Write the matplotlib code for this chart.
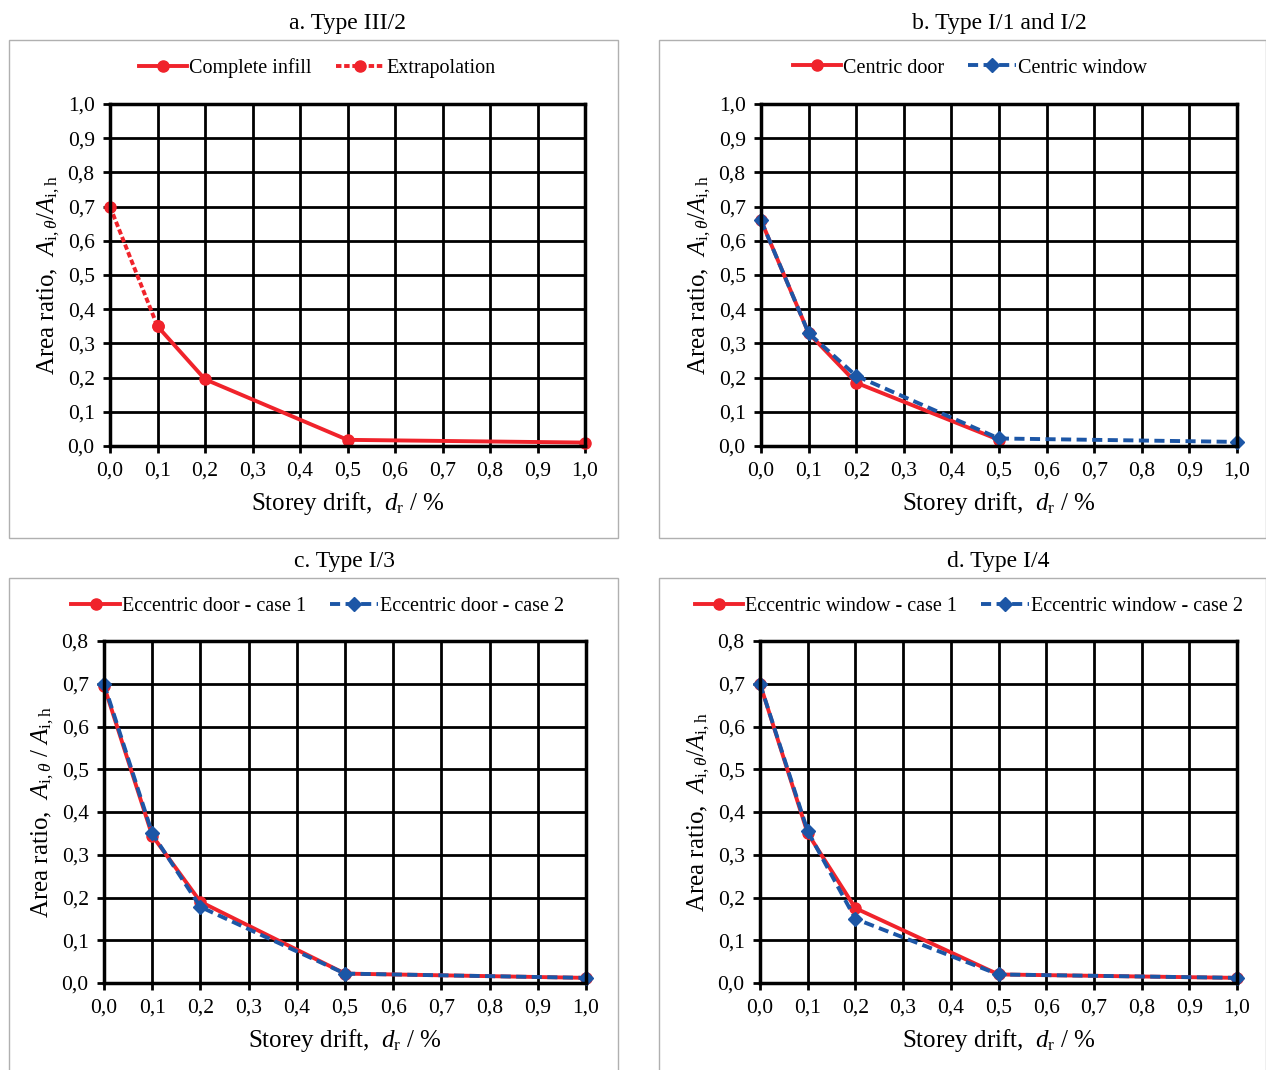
import numpy as np
import matplotlib
matplotlib.use('Agg')
import matplotlib.pyplot as plt
from matplotlib.patches import Rectangle
from matplotlib.ticker import FuncFormatter, MultipleLocator

plt.rcParams['font.family'] = ['Liberation Serif', 'DejaVu Serif']
plt.rcParams['mathtext.fontset'] = 'custom'
plt.rcParams['mathtext.rm'] = 'Liberation Serif'
plt.rcParams['mathtext.it'] = 'Liberation Serif:italic'

# ── Data ──────────────────────────────────────────────────────────────────────
# a. Type III/2
a_extrap_x = [0.0, 0.1]
a_extrap_y = [0.70, 0.35]
a_full_x = [0.1, 0.2, 0.5, 1.0]
a_full_y = [0.35, 0.195, 0.018, 0.010]
# b. Type I/1 and I/2
b_door_x = [0.0, 0.1, 0.2, 0.5]
b_door_y = [0.66, 0.33, 0.185, 0.018]
b_win_x = [0.0, 0.1, 0.2, 0.5, 1.0]
b_win_y = [0.66, 0.33, 0.205, 0.022, 0.012]
# c. Type I/3
c_x = [0.0, 0.1, 0.2, 0.5, 1.0]
c_case1 = [0.695, 0.345, 0.190, 0.022, 0.012]
c_case2 = [0.700, 0.350, 0.178, 0.022, 0.012]
# d. Type I/4
d_x = [0.0, 0.1, 0.2, 0.5, 1.0]
d_case1 = [0.700, 0.350, 0.175, 0.020, 0.012]
d_case2 = [0.700, 0.355, 0.150, 0.020, 0.012]

RED = '#f0232b'
BLUE = '#1c56a6'
W, H = 1266, 1070

fig = plt.figure(figsize=(W / 100, H / 100), dpi=100)


def px_axes(left, top, right, bottom):
    return fig.add_axes([left / W, 1 - bottom / H, (right - left) / W, (bottom - top) / H])


def comma(v, pos):
    return f'{v:.1f}'.replace('.', ',')


def style(ax, ymax, title, ylabel, box, leg_x):
    x0, y0, x1, y1 = box
    fig.patches.append(Rectangle((x0 / W, 1 - y1 / H), (x1 - x0) / W, (y1 - y0) / H,
                                 transform=fig.transFigure, fill=False,
                                 edgecolor='#b0b0b0', lw=1.0, zorder=0))
    ax.set_xlim(0, 1.0)
    ax.set_ylim(0, ymax)
    ax.xaxis.set_major_locator(MultipleLocator(0.1))
    ax.yaxis.set_major_locator(MultipleLocator(0.1))
    ax.xaxis.set_major_formatter(FuncFormatter(comma))
    ax.yaxis.set_major_formatter(FuncFormatter(comma))
    ax.grid(True, color='black', lw=2.0)
    ax.set_axisbelow(True)
    for s in ax.spines.values():
        s.set_linewidth(2.5)
    ax.tick_params(direction='out', length=5, width=2, labelsize=15.5, pad=6)
    ax.set_xlabel(r'Storey drift,  $d_{\mathrm{r}}$ / %', fontsize=18, labelpad=7)
    ax.set_ylabel(ylabel, fontsize=18, labelpad=4)
    bb = ax.get_position()
    fig.text((bb.x0 + bb.x1) / 2, 1 - (y0 - 17) / H, title, ha='center', va='center', fontsize=17)
    ax.legend(loc='center', bbox_to_anchor=(leg_x / W, 1 - (y0 + 28) / H),
              bbox_transform=fig.transFigure, ncol=2, frameon=False, fontsize=14.5,
              handlelength=2.4, handletextpad=0.1, columnspacing=1.2)


ylab = r'Area ratio,  $A_{\mathrm{i},\theta}/A_{\mathrm{i,h}}$'
ylab_c = r'Area ratio,  $A_{\mathrm{i},\theta}\ /\ A_{\mathrm{i,h}}$'
lw = 2.8

# a
ax = px_axes(110, 104, 585, 446)
ax.plot(a_full_x, a_full_y, color=RED, lw=lw, marker='o', ms=8, clip_on=False, label='Complete infill')
ax.plot(a_extrap_x, a_extrap_y, color=RED, lw=lw, ls=(0, (1.4, 0.7)), marker='o', ms=8,
        clip_on=False, label='Extrapolation')
style(ax, 1.0, 'a. Type III/2', ylab, (9, 40, 618, 538), 317)

# b
ax = px_axes(761, 104, 1237, 446)
ax.plot(b_door_x, b_door_y, color=RED, lw=lw, marker='o', ms=8, clip_on=False, label='Centric door')
ax.plot(b_win_x, b_win_y, color=BLUE, lw=lw, ls=(0, (2.6, 1.4)), marker='D', ms=7,
        clip_on=False, label='Centric window')
style(ax, 1.0, 'b. Type I/1 and I/2', ylab, (659, 40, 1266, 538), 970)

# c
ax = px_axes(104, 641, 586, 983)
ax.plot(c_x, c_case1, color=RED, lw=lw, marker='o', ms=8, clip_on=False, label='Eccentric door - case 1')
ax.plot(c_x, c_case2, color=BLUE, lw=lw, ls=(0, (2.6, 1.4)), marker='D', ms=7,
        clip_on=False, label='Eccentric door - case 2')
style(ax, 0.8, 'c. Type I/3', ylab_c, (9, 578, 618, 1075), 318)

# d
ax = px_axes(760, 641, 1237, 983)
ax.plot(d_x, d_case1, color=RED, lw=lw, marker='o', ms=8, clip_on=False, label='Eccentric window - case 1')
ax.plot(d_x, d_case2, color=BLUE, lw=lw, ls=(0, (2.6, 1.4)), marker='D', ms=7,
        clip_on=False, label='Eccentric window - case 2')
style(ax, 0.8, 'd. Type I/4', ylab, (659, 578, 1266, 1075), 969)

fig.savefig('out.png', dpi=100)
